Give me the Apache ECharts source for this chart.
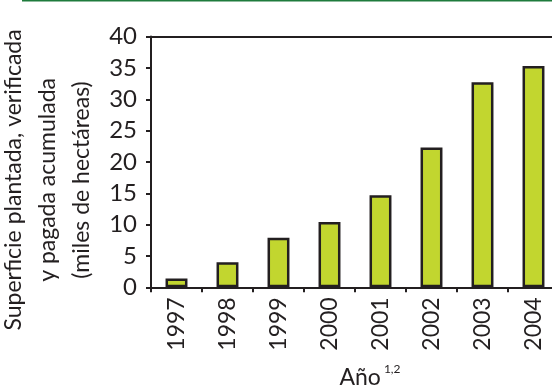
<!DOCTYPE html>
<html><head><meta charset="utf-8">
<script src="https://cdn.jsdelivr.net/npm/echarts@6/dist/echarts.min.js"></script>
<style>html,body{margin:0;padding:0;background:#fff}#c{width:552px;height:387px}</style>
</head><body><div id="c"></div>
<script>
var years = ['1997','1998','1999','2000','2001','2002','2003','2004'];
var superficie = [1.4, 4.0, 7.9, 10.4, 14.7, 22.3, 32.7, 35.3];
var yTicks = {min: 0, max: 40, interval: 5};
var yName = 'Superficie plantada, verificada\ny pagada acumulada\n(miles de hectáreas)';
var xName = 'Año';
var xNameSup = '1,2';

var FONT = 'Lato';
var INK = '#231f20';
var chart = echarts.init(document.getElementById('c'), null, {renderer: 'canvas'});
chart.setOption({
  animation: false,
  backgroundColor: '#fff',
  grid: {left: 151, top: 36.6, bottom: 99.7, right: -7, containLabel: false, outerBoundsMode: 'none'},
  graphic: [{type: 'line', shape: {x1: 22, y1: 0.5, x2: 552, y2: 0.5}, style: {stroke: '#1e7b3c', lineWidth: 2}}],
  xAxis: [{
    type: 'category', data: years, position: 'bottom',
    axisLine: {lineStyle: {color: INK, width: 2}},
    axisTick: {show: true, length: 5, lineStyle: {color: INK, width: 2}},
    axisLabel: {rotate: 90, fontFamily: FONT, fontSize: 23, color: INK, margin: 10},
    name: '{a|' + xName + '}{b|' + xNameSup + '}',
    nameLocation: 'middle', nameGap: 76,
    nameTextStyle: {padding: [0, 0, 0, 30], rich: {
      a: {fontFamily: FONT, fontSize: 23, color: INK, verticalAlign: 'bottom', lineHeight: 26},
      b: {fontFamily: FONT, fontSize: 12, color: INK, verticalAlign: 'top', lineHeight: 26, padding: [0, 0, 14, 3]}
    }}
  }, {
    type: 'category', data: years, position: 'top',
    axisLine: {lineStyle: {color: INK, width: 2}},
    axisTick: {show: false}, axisLabel: {show: false}
  }],
  yAxis: {
    type: 'value', min: yTicks.min, max: yTicks.max, interval: yTicks.interval,
    axisLine: {show: true, lineStyle: {color: INK, width: 2}},
    axisTick: {show: true, length: 5, lineStyle: {color: INK, width: 2}},
    splitLine: {show: false},
    axisLabel: {fontFamily: FONT, fontSize: 24, color: INK, margin: 14},
    name: yName, nameLocation: 'middle', nameRotate: 90, nameGap: 46,
    nameTextStyle: {fontFamily: FONT, fontSize: 23, color: INK, lineHeight: 34, padding: [0, 36, 0, 0]}
  },
  series: [{
    type: 'bar', data: superficie, barWidth: '43%',
    itemStyle: {color: '#c2d62f', borderColor: INK, borderWidth: 2.5}
  }]
});
</script></body></html>
